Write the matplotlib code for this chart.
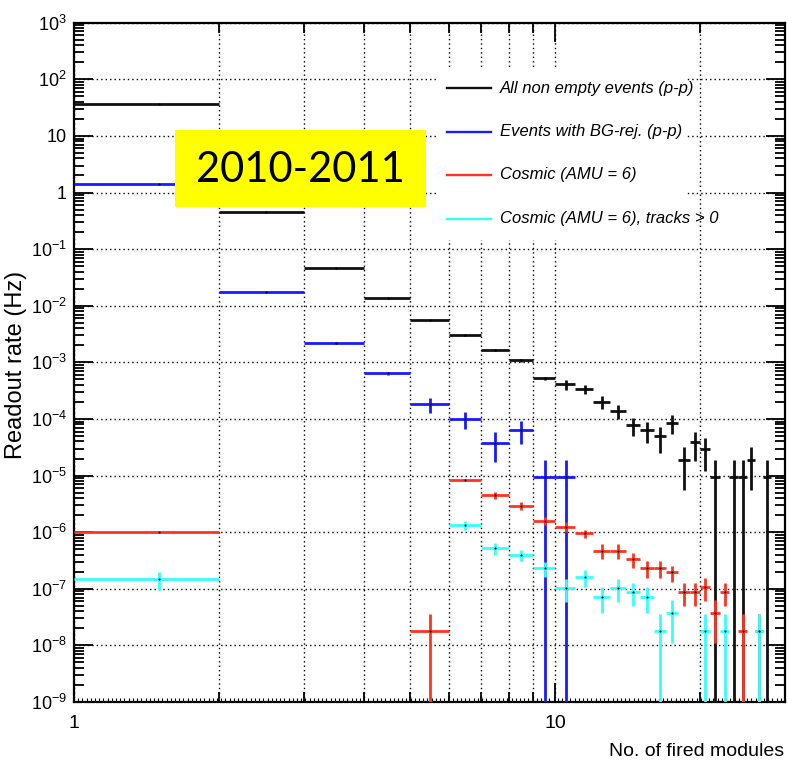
import numpy as np
import matplotlib.pyplot as plt
from matplotlib.patches import Rectangle
from matplotlib.lines import Line2D
from matplotlib.ticker import FixedLocator, NullFormatter

plt.rcParams['font.family'] = ['Liberation Sans', 'DejaVu Sans']
plt.rcParams['mathtext.fontset'] = 'custom'
plt.rcParams['mathtext.rm'] = 'Liberation Sans'
plt.rcParams['mathtext.it'] = 'Liberation Sans:italic'
plt.rcParams['mathtext.default'] = 'regular'

# each bin is [n, n+1) fired modules, n = lower edge
all_bins = [1, 2, 3, 4, 5, 6, 7, 8, 9, 10, 11, 12, 13, 14, 15, 16, 17, 18, 19, 20, 21, 23, 24, 25, 27]
all_rate = [36.6, 0.46, 0.047, 0.0135, 0.0056, 0.0031, 0.00165, 0.00108, 5.2e-4, 4.1e-4,
            3.4e-4, 2.0e-4, 1.4e-4, 7.7e-5, 6.4e-5, 4.9e-5, 8.6e-5, 1.9e-5, 3.9e-5, 2.9e-5,
            9.5e-6, 9.5e-6, 9.5e-6, 1.9e-5, 9.5e-6]
all_err = [0.4, 0.008, 0.001, 0.0003, 0.0001, 0.00013, 7e-5, 8e-5, 3.7e-5, 8e-5,
           6e-5, 5e-5, 4e-5, 2.8e-5, 2.6e-5, 2.4e-5, 3.1e-5, 1.35e-5, 2.1e-5, 1.7e-5,
           9.5e-6, 9.5e-6, 9.5e-6, 1.35e-5, 9.5e-6]

bg_bins = [1, 2, 3, 4, 5, 6, 7, 8, 9, 10]
bg_rate = [1.41, 0.0175, 0.00217, 6.4e-4, 1.83e-4, 1.01e-4, 3.8e-5, 6.4e-5, 9.5e-6, 9.5e-6]
bg_err = [0.02, 0.0008, 8e-5, 4e-5, 5.5e-5, 3.4e-5, 2.05e-5, 2.8e-5, 9.5e-6, 9.5e-6]

cos_bins = [1, 5, 6, 7, 8, 9, 10, 11, 12, 13, 14, 15, 16, 17, 18, 19, 20, 21, 22, 24, 26]
cos_rate = [1.02e-6, 1.8e-8, 8.3e-6, 4.5e-6, 2.9e-6, 1.6e-6, 1.25e-6, 9.5e-7, 4.7e-7, 4.7e-7,
            3.3e-7, 2.35e-7, 2.35e-7, 1.95e-7, 8.9e-8, 8.9e-8, 1.06e-7, 3.7e-8, 8.9e-8, 1.8e-8, 1.8e-8]
cos_err = [5e-8, 1.8e-8, 4e-7, 6e-7, 4.5e-7, 2.7e-7, 2.5e-7, 1.6e-7, 1.4e-7, 1.4e-7,
           1.0e-7, 7.8e-8, 7.8e-8, 6.2e-8, 3.9e-8, 3.9e-8, 4.6e-8, 2.6e-8, 3.9e-8, 1.8e-8, 1.8e-8]

trk_bins = [1, 6, 7, 8, 9, 10, 11, 12, 13, 14, 15, 16, 17, 20, 22, 26]
trk_rate = [1.48e-7, 1.33e-6, 5.2e-7, 4.0e-7, 2.3e-7, 1.04e-7, 1.63e-7, 7.2e-8, 1.04e-7, 8.9e-8,
            7.2e-8, 1.8e-8, 3.7e-8, 1.8e-8, 1.8e-8, 1.8e-8]
trk_err = [5.3e-8, 2.2e-7, 1.2e-7, 9e-8, 7e-8, 4.6e-8, 5.5e-8, 3.4e-8, 4.6e-8, 3.9e-8,
           3.4e-8, 1.8e-8, 2.6e-8, 1.8e-8, 1.8e-8, 1.8e-8]

labels = ['All non empty events (p-p)', 'Events with BG-rej. (p-p)',
          'Cosmic (AMU = 6)', 'Cosmic (AMU = 6), tracks > 0']
colors = ['#111111', '#1a1aff', '#ff3322', '#33ffff']

W, H = 788, 765
fig = plt.figure(figsize=(W / 100, H / 100), dpi=100)
ax = fig.add_axes([74 / W, 1 - 702 / H, (785 - 74) / W, (702 - 22.7) / H])
ax.set_xscale('log')
ax.set_yscale('log')
ax.set_xlim(1, 30)
ax.set_ylim(1e-9, 1e3)

series = [(all_bins, all_rate, all_err), (bg_bins, bg_rate, bg_err),
          (cos_bins, cos_rate, cos_err), (trk_bins, trk_rate, trk_err)]
for (b, r, e), c in zip(series, colors):
    b = np.array(b, dtype=float)
    x = b + 0.5
    ax.errorbar(x, r, xerr=[x - b, b + 1 - x], yerr=e, fmt='none', ecolor=c,
                elinewidth=2.0, capsize=0, zorder=3)
    ax.plot(x, r, 'o', color='k', ms=1.5, mew=0, zorder=4)

# axes, ticks, grid in ROOT style
ax.xaxis.set_major_locator(FixedLocator([1, 10]))
ax.xaxis.set_minor_locator(FixedLocator([2, 3, 4, 5, 6, 7, 8, 9, 20]))
ax.xaxis.set_minor_formatter(NullFormatter())
ax.set_xticklabels(['1', '10'])
decades = list(range(-9, 4))
ax.yaxis.set_major_locator(FixedLocator([10.0 ** k for k in decades]))
ax.yaxis.set_minor_locator(FixedLocator([m * 10.0 ** k for k in decades[:-1] for m in range(2, 10)]))
ax.yaxis.set_minor_formatter(NullFormatter())
ax.set_yticklabels(['1' if k == 0 else '10' if k == 1 else '$10^{%d}$' % k for k in decades])

ax.tick_params(which='both', direction='in', top=True, right=True, width=1.3, labelsize=13)
ax.tick_params(which='major', length=14)
ax.tick_params(which='minor', length=7)
ax.tick_params(axis='x', which='major', pad=9, labelsize=14)
ax.tick_params(axis='y', which='major', pad=5)
for s in ax.spines.values():
    s.set_linewidth(1.6)

ax.grid(True, axis='y', which='major', color='k', ls=(0, (1, 2.2)), lw=1.0)
ax.grid(True, axis='x', which='both', color='k', ls=(0, (1, 2.2)), lw=1.0)
ax.set_axisbelow(True)

# small extra ticks along the bottom axis
tiny = np.geomspace(1, 30, 170)
ax.vlines(tiny, 0, 4 / 680, transform=ax.get_xaxis_transform(), color='k', lw=0.8, clip_on=False)

fig.text(16 / W, 1 - 365 / H, 'Readout rate (Hz)', rotation=90, ha='center', va='center', fontsize=17)
fig.text(784 / W, 1 - 752 / H, 'No. of fired modules', ha='right', va='center', fontsize=14)

# legend drawn ROOT-like, no frame
fig.add_artist(Rectangle((438 / W, 1 - 240 / H), (687 - 438) / W, (240 - 68) / H,
                         transform=fig.transFigure, facecolor='white', edgecolor='none', zorder=1))
for i, (lab, c) in enumerate(zip(labels, colors)):
    yy = 1 - (88 + 43.5 * i) / H
    fig.add_artist(Line2D([447 / W, 491 / W], [yy, yy], color=c, lw=1.7, zorder=2))
    fig.text(500 / W, yy, lab, ha='left', va='center', fontsize=12, style='italic', zorder=2)

# year tag
fig.add_artist(Rectangle((175 / W, 1 - 207 / H), (426 - 175) / W, (207 - 130) / H,
                         transform=fig.transFigure, facecolor='#ffff00', edgecolor='none', zorder=3))
fig.text(300 / W, 1 - 170 / H, '2010-2011', ha='center', va='center', fontsize=30,
         family=['Lato', 'DejaVu Sans'], zorder=4)

fig.savefig('out.png', dpi=100)
